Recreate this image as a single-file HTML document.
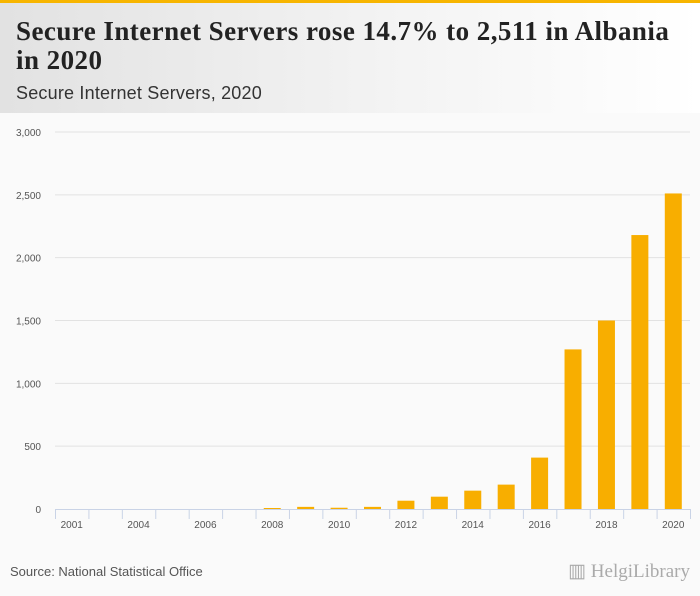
<!DOCTYPE html>
<html><head><meta charset="utf-8"><style>
body{margin:0;width:700px;height:596px;overflow:hidden;background:#fafafa;font-family:"Liberation Sans",sans-serif;}
#hdr{position:absolute;left:0;top:0;width:700px;height:113px;background:linear-gradient(90deg,#e2e2e2 0%,#f3f3f3 55%,#ffffff 100%);border-top:3px solid #f7b500;box-sizing:border-box;}
#title{position:absolute;left:16px;top:14px;font-family:"Liberation Serif",serif;font-weight:bold;font-size:27px;line-height:29px;color:#222;letter-spacing:0.45px;white-space:nowrap;}
#sub{position:absolute;left:16px;top:80px;font-size:18px;color:#333;letter-spacing:0.2px;}
#src{position:absolute;left:10px;top:564px;font-size:13px;color:#555;}
#logo{position:absolute;right:10px;top:560px;font-size:19px;color:#aaa;font-family:"Liberation Serif",serif;}
</style></head><body>
<div id="hdr">
<div id="title">Secure Internet Servers rose 14.7% to 2,511 in Albania<br>in 2020</div>
<div id="sub">Secure Internet Servers, 2020</div>
</div>
<svg id="chart" width="700" height="596" style="position:absolute;left:0;top:0"></svg>
<div id="src">Source: National Statistical Office</div>
<div id="logo">▥ HelgiLibrary</div>
<script>
const categories=["2001","2003","2004","2005","2006","2007","2008","2009","2010","2011","2012","2013","2014","2015","2016","2017","2018","2019","2020"];
const values=[0,0,0,0,0,0,8,17,10,17,66,98,146,194,409,1270,1500,2180,2511];
const yTicks=[0,500,1000,1500,2000,2500,3000];
const tickLabels=["0","500","1,000","1,500","2,000","2,500","3,000"];
const NS="http://www.w3.org/2000/svg";
const svg=document.getElementById('chart');
const x0=55,x1=690,y0=509,y1=132,yMax=3000;
const band=(x1-x0)/categories.length;
const xs=i=>x0+band*i;
const ys=v=>y0-(v/yMax)*(y0-y1);
function mk(t,a){const e=document.createElementNS(NS,t);for(const k in a)e.setAttribute(k,a[k]);svg.appendChild(e);return e;}
yTicks.forEach((t,i)=>{
 if(t>0){const g=mk('line',{x1:55,x2:690,y1:ys(t),y2:ys(t),stroke:'#e2e2e2','stroke-width':1});
 
 }
 const l=mk('text',{x:41,y:ys(t)+4,'text-anchor':'end','font-size':10,fill:'#555','font-family':'Liberation Sans, sans-serif'});
 l.textContent=tickLabels[i];
 
 
});
const ax=mk('line',{x1:x0,x2:x1,y1:y0+0.5,y2:y0+0.5,stroke:'#c9d3e6','stroke-width':1});


categories.forEach((c,i)=>{
 const tk=mk('line',{x1:xs(i)+0.5,x2:xs(i)+0.5,y1:y0,y2:y0+10,stroke:'#c9d3e6'});
 
 
 const bw=17;
 const h=y0-ys(values[i]);
 if(values[i]>0){const b=mk('rect',{x:xs(i)+band/2-bw/2,y:ys(values[i]),width:bw,height:h,fill:'#f8ae00'});
 
 }
 if(i%2===0){const t=mk('text',{x:xs(i)+band/2,y:y0+19,'text-anchor':'middle','font-size':10,fill:'#555','font-family':'Liberation Sans, sans-serif'});
 t.textContent=c;
 
 }
});
const last=mk('line',{x1:x1+0.5,x2:x1+0.5,y1:y0,y2:y0+10,stroke:'#c9d3e6'});


</script>
</body></html>
